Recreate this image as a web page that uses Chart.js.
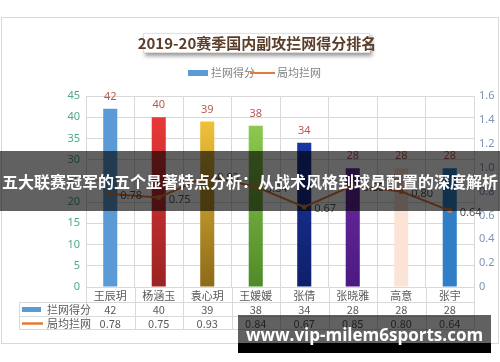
<!DOCTYPE html>
<html>
<head>
<meta charset="utf-8">
<script src="https://cdn.jsdelivr.net/npm/chart.js@4.4.1/dist/chart.umd.min.js"></script>
<style>
  body { margin: 0; background: #fff; }
  #wrap { position: relative; width: 500px; height: 362px; overflow: hidden; }
  .band { position: absolute; left: 0; top: 151px; width: 500px; height: 60px; background: rgba(0,0,0,0.62);
          color: #fff; font: bold 16px "Noto Sans CJK SC", sans-serif; line-height: 60px; text-align: center; white-space: nowrap; }
  .mark { position: absolute; left: 238px; top: 315px; width: 253px; height: 28px; background: rgba(0,0,0,0.62); }
  .mark2 { position: absolute; left: 238px; top: 343px; width: 253px; height: 10px; background: #000; }
  .markText { position: absolute; left: 238px; top: 318px; width: 253px; height: 34px; color: #fff;
          font: bold 17px "Open Sans", sans-serif; line-height: 34px; text-align: center; white-space: nowrap; }
</style>
</head>
<body>
<div id="wrap">
  <canvas id="chart" width="500" height="362"></canvas>
  <div class="band">五大联赛冠军的五个显著特点分析：从战术风格到球员配置的深度解析</div>
  <div class="mark"></div>
  <div class="mark2"></div>
  <div class="markText">www.vip-milem6sports.com</div>
</div>
<script>
// data
const players = ['王辰玥', '杨涵玉', '袁心玥', '王媛媛', '张倩', '张晓雅', '高意', '张宇'];
const blockPoints = [42, 40, 39, 38, 34, 28, 28, 28];
const blocksPerSet = [0.78, 0.75, 0.93, 0.84, 0.67, 0.85, 0.80, 0.64];
const seriesNames = ['拦网得分', '局均拦网'];
const chartTitle = '2019-20赛季国内副攻拦网得分排名';

// bar colours, top -> bottom
const barTop = ['#5b9bd5', '#f23a3a', '#ffcf3f', '#98d454', '#1c3db0', '#7b32b4', '#fbe3d6', '#2f7ec6'];
const barBottom = ['#5b9bd5', '#9a2424', '#8c6a18', '#4f8a28', '#0f1f6a', '#4c1a80', '#fbe3d6', '#2f7ec6'];
const lineColor = '#e07b39';
const gray = '#595959';

function barFill(ctx) {
  const chart = ctx.chart;
  const area = chart.chartArea;
  const i = ctx.dataIndex;
  if (!area) return barTop[i];
  const g = chart.ctx.createLinearGradient(0, area.top, 0, area.bottom);
  g.addColorStop(0, barTop[i]);
  g.addColorStop(1, barBottom[i]);
  return g;
}

const decor = {
  id: 'decor',
  beforeDraw(chart) {
    const c = chart.ctx;
    c.save();
    c.fillStyle = '#fff';
    c.fillRect(0, 0, 500, 362);
    c.strokeStyle = '#d9d9d9';
    c.lineWidth = 1;
    c.strokeRect(1.5, 17.5, 497, 326);

    // title box with shadow
    c.shadowColor = 'rgba(0,0,0,0.4)';
    c.shadowOffsetX = 2;
    c.shadowOffsetY = 3;
    c.shadowBlur = 4;
    c.fillStyle = '#fff';
    c.fillRect(143, 33, 227, 20);
    c.shadowColor = 'transparent';
    c.strokeStyle = '#e0e0e0';
    c.strokeRect(143.5, 33.5, 226, 19);
    c.fillStyle = '#5b3d2a';
    c.font = 'bold 15px "Noto Sans CJK SC", sans-serif';
    c.textAlign = 'center';
    c.textBaseline = 'middle';
    c.fillText(chartTitle, 257, 43);

    // legend
    c.font = '11px "Noto Sans CJK SC", sans-serif';
    c.textAlign = 'left';
    c.fillStyle = '#5b9bd5';
    c.fillRect(188, 70, 20, 6);
    c.fillStyle = '#7f7f7f';
    c.fillText(seriesNames[0], 211, 73);
    c.strokeStyle = lineColor;
    c.lineWidth = 2;
    c.beginPath(); c.moveTo(250, 73); c.lineTo(275, 73); c.stroke();
    c.fillText(seriesNames[1], 277, 73);
    c.restore();
  },
  afterDatasetsDraw(chart) {
    const c = chart.ctx;
    c.save();
    c.font = '11px "Noto Sans", sans-serif';
    c.textBaseline = 'middle';
    c.textAlign = 'center';
    c.fillStyle = '#b55a55';
    chart.getDatasetMeta(1).data.forEach((bar, i) => {
      c.fillText(String(blockPoints[i]), bar.x, bar.y - 12);
    });
    c.textAlign = 'left';
    c.fillStyle = gray;
    chart.getDatasetMeta(0).data.forEach((pt, i) => {
      c.fillText(blocksPerSet[i].toFixed(2), pt.x + 10, pt.y + 2);
    });
    c.restore();
  },
  afterDraw(chart) {
    const c = chart.ctx;
    const x = chart.scales.x;
    const area = chart.chartArea;
    const half = (area.right - area.left) / players.length / 2;
    const r0 = area.bottom, r1 = r0 + 15, r2 = r1 + 14, r3 = r2 + 13;
    const leftEdge = 19.5;
    c.save();
    c.strokeStyle = '#d9d9d9';
    c.lineWidth = 1;
    c.beginPath();
    c.moveTo(leftEdge, r1 + 0.5); c.lineTo(area.right, r1 + 0.5);
    c.moveTo(leftEdge, r2 + 0.5); c.lineTo(area.right, r2 + 0.5);
    c.moveTo(leftEdge, r3 + 0.5); c.lineTo(area.right, r3 + 0.5);
    c.moveTo(leftEdge, r1); c.lineTo(leftEdge, r3);
    for (let i = 0; i <= players.length; i++) {
      const bx = Math.round(x.getPixelForValue(0) - half + i * half * 2) + 0.5;
      c.moveTo(bx, r0); c.lineTo(bx, r3);
    }
    c.stroke();

    c.fillStyle = gray;
    c.font = '11px "Noto Sans CJK SC", sans-serif';
    c.textAlign = 'center';
    c.textBaseline = 'middle';
    players.forEach((p, i) => {
      const cx = x.getPixelForValue(i);
      c.fillText(p, cx, (r0 + r1) / 2 + 1);
      c.fillText(String(blockPoints[i]), cx, (r1 + r2) / 2 + 1);
      c.fillText(blocksPerSet[i].toFixed(2), cx, (r2 + r3) / 2 + 1);
    });
    // row headers with legend keys
    c.fillStyle = '#5b9bd5';
    c.fillRect(22, (r1 + r2) / 2 - 2, 19, 5);
    c.strokeStyle = lineColor;
    c.lineWidth = 2.5;
    c.beginPath(); c.moveTo(22, (r2 + r3) / 2 + 1); c.lineTo(43, (r2 + r3) / 2 + 1); c.stroke();
    c.fillStyle = gray;
    c.textAlign = 'left';
    c.fillText(seriesNames[0], 47, (r1 + r2) / 2 + 1);
    c.fillText(seriesNames[1], 47, (r2 + r3) / 2 + 1);
    c.restore();
  }
};

new Chart(document.getElementById('chart'), {
  data: {
    labels: players,
    datasets: [
      {
        type: 'line',
        label: seriesNames[1],
        data: blocksPerSet,
        yAxisID: 'y1',
        borderColor: lineColor,
        backgroundColor: lineColor,
        borderWidth: 2,
        pointRadius: 1.5,
        tension: 0
      },
      {
        type: 'bar',
        label: seriesNames[0],
        data: blockPoints,
        yAxisID: 'y',
        backgroundColor: barFill,
        categoryPercentage: 1,
        barPercentage: 0.29
      }
    ]
  },
  options: {
    responsive: false,
    animation: false,
    layout: { padding: { top: 96, left: 0, right: 0, bottom: 0 } },
    plugins: { legend: { display: false }, tooltip: { enabled: false }, title: { display: false } },
    scales: {
      x: {
        grid: { color: '#d9d9d9', offset: true, drawTicks: false },
        border: { color: '#d9d9d9' },
        ticks: { display: false },
        afterFit(s) { s.height = 75; }
      },
      y: {
        position: 'left',
        min: 0, max: 45,
        ticks: { stepSize: 5, color: '#4ea98b', font: { size: 11, family: 'Noto Sans' }, padding: 6 },
        grid: { color: '#d9d9d9', drawTicks: false },
        border: { display: false },
        afterFit(s) { s.width = 86; }
      },
      y1: {
        position: 'right',
        min: 0, max: 1.6,
        ticks: { stepSize: 0.2, color: '#7f93b5', font: { size: 11, family: 'Noto Sans' }, padding: 5 },
        grid: { display: false, drawTicks: false },
        border: { display: false },
        afterFit(s) { s.width = 26; }
      }
    }
  },
  plugins: [decor]
});
</script>
</body>
</html>
